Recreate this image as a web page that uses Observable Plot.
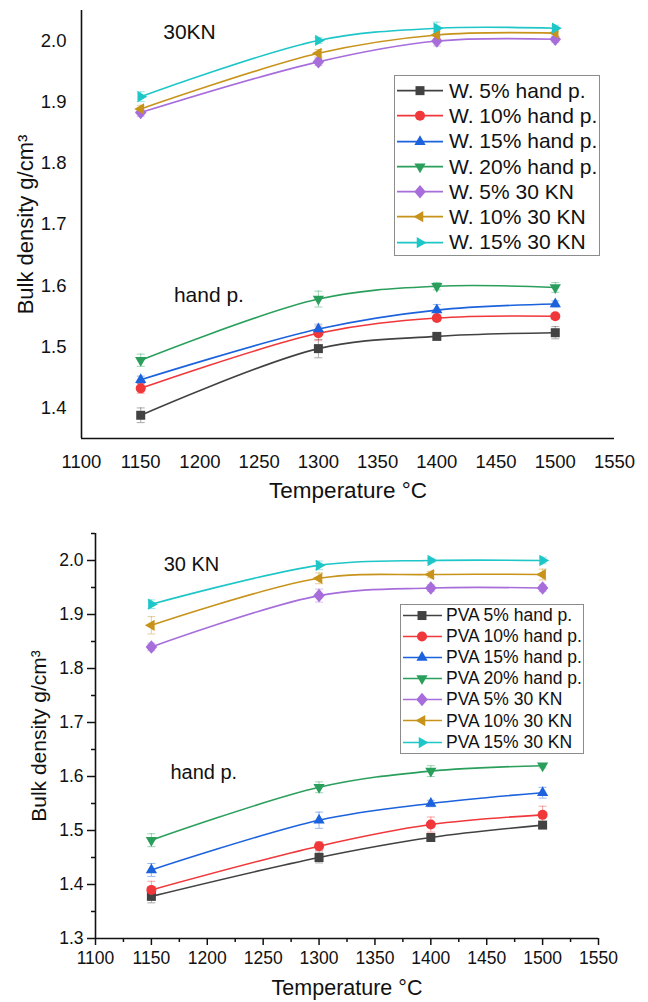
<!DOCTYPE html>
<html><head><meta charset="utf-8">
<script src="https://cdn.jsdelivr.net/npm/d3@7"></script>
<script src="https://cdn.jsdelivr.net/npm/@observablehq/plot@0.6"></script>
<style>
body{margin:0;background:#fff;font-family:"Liberation Sans",Arial,sans-serif;color:#111;}
#wrap{position:relative;width:648px;height:1002px;overflow:hidden;}
.panel{position:absolute;left:0;}
.legend{position:absolute;border:1px solid #8c8c8c;background:#fff;box-sizing:border-box;}
.row{display:flex;align-items:center;white-space:nowrap;}
.row svg{flex:none;}
</style></head><body><div id="wrap"></div><script>
// ---------- data ----------
const temperatures = [1150, 1300, 1400, 1500];
const xTicks = [1100, 1150, 1200, 1250, 1300, 1350, 1400, 1450, 1500, 1550];
const xMinorTicks = [1125, 1175, 1225, 1275, 1325, 1375, 1425, 1475, 1525];
const topYTicks = [1.4, 1.5, 1.6, 1.7, 1.8, 1.9, 2.0];
const bottomYTicks = [1.3, 1.4, 1.5, 1.6, 1.7, 1.8, 1.9, 2.0];
const bottomYMinorTicks = [1.35, 1.45, 1.55, 1.65, 1.75, 1.85, 1.95, 2.05];

const topSeries = ["W. 5% hand p.", "W. 10% hand p.", "W. 15% hand p.", "W. 20% hand p.", "W. 5% 30 KN", "W. 10% 30 KN", "W. 15% 30 KN"];
const topValues = [
  [1.388, 1.497, 1.517, 1.523],
  [1.432, 1.522, 1.547, 1.550],
  [1.446, 1.529, 1.560, 1.570],
  [1.478, 1.578, 1.599, 1.597],
  [1.883, 1.966, 2.000, 2.003],
  [1.889, 1.980, 2.010, 2.013],
  [1.909, 2.001, 2.021, 2.021]
];
const topErrors = [
  [0.012, 0.015, 0.005, 0.010],
  [0.008, 0.012, 0.005, 0.005],
  [0.006, 0.008, 0.009, 0.005],
  [0.010, 0.013, 0.006, 0.008],
  [0.006, 0.006, 0.008, 0.005],
  [0.006, 0.006, 0.006, 0.006],
  [0.008, 0.005, 0.010, 0.005]
];
const bottomSeries = ["PVA 5% hand p.", "PVA 10% hand p.", "PVA 15% hand p.", "PVA 20% hand p.", "PVA 5% 30 KN", "PVA 10% 30 KN", "PVA 15% 30 KN"];
const bottomValues = [
  [1.378, 1.450, 1.487, 1.510],
  [1.390, 1.471, 1.511, 1.529],
  [1.427, 1.519, 1.550, 1.570],
  [1.482, 1.580, 1.610, 1.620],
  [1.840, 1.935, 1.949, 1.949],
  [1.880, 1.967, 1.974, 1.974],
  [1.919, 1.991, 2.000, 2.000]
];
const bottomErrors = [
  [0.012, 0.010, 0.006, 0.005],
  [0.016, 0.008, 0.014, 0.016],
  [0.012, 0.015, 0.006, 0.010],
  [0.012, 0.010, 0.010, 0.004],
  [0.007, 0.012, 0.006, 0.006],
  [0.016, 0.010, 0.006, 0.010],
  [0.008, 0.008, 0.004, 0.006]
];
const seriesColors = ["#424242", "#f0373a", "#1b62dc", "#2a9f5c", "#a76ddb", "#c8931a", "#1ec6c8"];
const topNotes = [{text: "30KN", t: 1169, v: 2.014}, {text: "hand p.", t: 1178, v: 1.585}];
const bottomNotes = [{text: "30 KN", t: 1161, v: 1.993}, {text: "hand p.", t: 1167, v: 1.607}];

// ---------- symbols ----------
function poly(pts){return {draw(ctx, size){const r = Math.sqrt(size/Math.PI); ctx.moveTo(pts[0][0]*r, pts[0][1]*r); for (let i=1;i<pts.length;i++) ctx.lineTo(pts[i][0]*r, pts[i][1]*r); ctx.closePath();}};}
const R = 1.3;
const symSquare = poly([[-0.9,-0.9],[0.9,-0.9],[0.9,0.9],[-0.9,0.9]]);
const symCircle = {draw(ctx,size){const r=Math.sqrt(size/Math.PI); ctx.moveTo(r,0); ctx.arc(0,0,r,0,2*Math.PI);}};
const symUp = poly([[0,-R],[R*0.866,R*0.5],[-R*0.866,R*0.5]]);
const symDown = poly([[0,R],[R*0.866,-R*0.5],[-R*0.866,-R*0.5]]);
const symDiamond = poly([[0,-1.35],[1.15,0],[0,1.35],[-1.15,0]]);
const symLeft = poly([[-R,0],[R*0.5,-R*0.866],[R*0.5,R*0.866]]);
const symRight = poly([[R,0],[-R*0.5,-R*0.866],[-R*0.5,R*0.866]]);
const symCap = {draw(ctx,size){const r=Math.sqrt(size/Math.PI); ctx.moveTo(-r,0); ctx.lineTo(r,0);}};
const seriesSymbols = [symSquare, symCircle, symUp, symDown, symDiamond, symLeft, symRight];

function makePanel(cfg){
  const marks = [];
  cfg.values.forEach((vals, i) => {
    const rows = temperatures.map((t, j) => ({t, v: vals[j], e: cfg.errors[i][j]}));
    const col = seriesColors[i];
    marks.push(Plot.ruleX(rows, {x: "t", y1: d => d.v - d.e, y2: d => d.v + d.e, stroke: col, strokeOpacity: 0.45, strokeWidth: 1}));
    marks.push(Plot.dot(rows, {x: "t", y: d => d.v + d.e, symbol: symCap, r: 4, stroke: col, strokeOpacity: 0.45, fill: "none", strokeWidth: 1}));
    marks.push(Plot.dot(rows, {x: "t", y: d => d.v - d.e, symbol: symCap, r: 4, stroke: col, strokeOpacity: 0.45, fill: "none", strokeWidth: 1}));
    marks.push(Plot.line(rows, {x: "t", y: "v", stroke: col, strokeWidth: 1.6, curve: "catmull-rom"}));
  });
  cfg.values.forEach((vals, i) => {
    const rows = temperatures.map((t, j) => ({t, v: vals[j]}));
    marks.push(Plot.dot(rows, {x: "t", y: "v", symbol: seriesSymbols[i], r: 5, fill: seriesColors[i], stroke: "none"}));
  });
  return Plot.plot({
    width: 648, height: cfg.height,
    marginLeft: cfg.ml, marginRight: cfg.mr, marginTop: cfg.mt, marginBottom: cfg.mb,
    x: {domain: [1100, 1550]},
    y: {domain: cfg.yDomain},
    style: {fontFamily: "'Liberation Sans', Arial, sans-serif", background: "transparent", color: "#111", overflow: "visible"},
    marks: [
      ...cfg.axes,
      Plot.ruleX([1100], {stroke: "#111", strokeWidth: 1.6}),
      Plot.ruleY([cfg.yDomain[0]], {stroke: "#111", strokeWidth: 1.6}),
      ...marks,
      Plot.text(cfg.notes, {x: "t", y: "v", text: "text", textAnchor: "start", fontSize: cfg.noteSize, fill: "#111"}),
      Plot.text(["Temperature °C"], {frameAnchor: "bottom", dy: cfg.xTitleDy, lineAnchor: "middle", textAnchor: "middle", text: d => d, fontSize: cfg.xTitleSize, fill: "#111"}),
      Plot.text(["Bulk density g/cm³"], {frameAnchor: "left", dx: cfg.yTitleDx, rotate: -90, textAnchor: "middle", lineAnchor: "middle", text: d => d, fontSize: cfg.yTitleSize, fill: "#111"})
    ]
  });
}

const fmt = d3.format(".1f");
const topPlot = makePanel({
  height: 500, ml: 81, mr: 34, mt: 10, mb: 62, yDomain: [1.35, 2.05],
  values: topValues, errors: topErrors, notes: topNotes, noteSize: 21, xTitleDy: 52, yTitleDx: -56,
  xTitleSize: 22.5, yTitleSize: 22,
  axes: [
    Plot.axisX(xTicks, {tickSize: 0, tickPadding: 16, fontSize: 18.5, label: null, tickFormat: d => String(d)}),
    Plot.axisY(topYTicks, {tickSize: 0, tickPadding: 15, fontSize: 18.5, label: null, tickFormat: fmt})
  ]
});
const bottomPlot = makePanel({
  height: 502, ml: 95, mr: 50, mt: 33, mb: 64, yDomain: [1.3, 2.05],
  values: bottomValues, errors: bottomErrors, notes: bottomNotes, noteSize: 20, xTitleDy: 50, yTitleDx: -56,
  xTitleSize: 21.5, yTitleSize: 21,
  axes: [
    Plot.axisX(xMinorTicks, {tickSize: 4, tickFormat: () => "", label: null, strokeWidth: 1.5}),
    Plot.axisY(bottomYMinorTicks, {tickSize: 4, tickFormat: () => "", label: null, strokeWidth: 1.5}),
    Plot.axisX(xTicks, {tickSize: 7, tickPadding: 6, fontSize: 17.5, label: null, tickFormat: d => String(d), strokeWidth: 1.5}),
    Plot.axisY(bottomYTicks, {tickSize: 8, tickPadding: 4, fontSize: 17.5, label: null, tickFormat: fmt, strokeWidth: 1.5})
  ]
});

const wrap = document.getElementById("wrap");
topPlot.classList.add("panel"); topPlot.style.top = "0px";
bottomPlot.classList.add("panel"); bottomPlot.style.top = "500px";
wrap.appendChild(topPlot); wrap.appendChild(bottomPlot);

function makeLegend(cfg){
  const box = document.createElement("div");
  box.className = "legend";
  Object.assign(box.style, {left: cfg.left + "px", top: cfg.top + "px", width: cfg.width + "px", height: cfg.height + "px", paddingTop: cfg.pad + "px"});
  cfg.series.forEach((name, i) => {
    const row = document.createElement("div");
    row.className = "row";
    row.style.height = cfg.rowH + "px";
    const sw = cfg.lineEnd + 3;
    const svg = d3.create("svg").attr("width", sw).attr("height", cfg.rowH);
    svg.append("line").attr("x1", cfg.lineStart).attr("x2", cfg.lineEnd).attr("y1", cfg.rowH/2).attr("y2", cfg.rowH/2).attr("stroke", seriesColors[i]).attr("stroke-width", 1.6);
    const p = d3.path(); seriesSymbols[i].draw(p, 25*Math.PI);
    svg.append("path").attr("d", p.toString()).attr("transform", `translate(${cfg.marker},${cfg.rowH/2})`).attr("fill", seriesColors[i]);
    row.appendChild(svg.node());
    const span = document.createElement("span");
    span.textContent = name;
    span.style.fontSize = cfg.font + "px";
    span.style.marginLeft = (cfg.textX - sw) + "px";
    row.appendChild(span);
    box.appendChild(row);
  });
  wrap.appendChild(box);
}
makeLegend({series: topSeries, left: 394, top: 75, width: 206, height: 181, pad: 2, rowH: 25.3, lineStart: 2, lineEnd: 48, marker: 25, textX: 54, font: 21});
makeLegend({series: bottomSeries, left: 400, top: 604, width: 184, height: 150, pad: 0, rowH: 21.1, lineStart: 2, lineEnd: 41, marker: 21, textX: 45, font: 17.5});
</script></body></html>
